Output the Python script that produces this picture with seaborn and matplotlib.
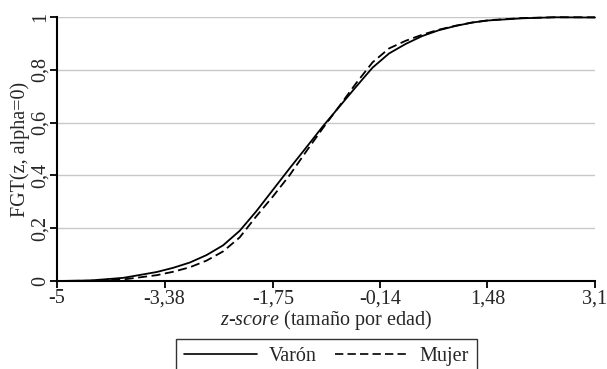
import matplotlib
matplotlib.use("Agg")
import matplotlib.pyplot as plt
from matplotlib.lines import Line2D
import seaborn as sns
import pandas as pd

# z-score grid and cumulative headcount FGT(z, alpha=0) by sex
z = [-5.0, -4.5, -4.0, -3.5, -3.25, -3.0, -2.75, -2.5, -2.25, -2.0, -1.75,
     -1.5, -1.25, -1.0, -0.75, -0.5, -0.25, 0.0, 0.25, 0.5, 0.75, 1.0, 1.25,
     1.5, 2.0, 2.5, 3.1]
varon = [0.0, 0.002, 0.012, 0.034, 0.05, 0.07, 0.098, 0.135, 0.19, 0.264,
         0.345, 0.426, 0.505, 0.585, 0.66, 0.735, 0.808, 0.862, 0.898, 0.928,
         0.95, 0.966, 0.979, 0.987, 0.995, 0.999, 0.998]
mujer = [0.0, 0.001, 0.006, 0.022, 0.035, 0.052, 0.077, 0.112, 0.165, 0.245,
         0.32, 0.40, 0.49, 0.578, 0.662, 0.748, 0.828, 0.881, 0.91, 0.933,
         0.952, 0.967, 0.979, 0.988, 0.996, 0.999, 0.999]

xticks = [-5, -3.38, -1.75, -0.14, 1.48, 3.1]
xtick_labels = ["-5", "-3,38", "-1,75", "-0,14", "1,48", "3,1"]
yticks = [0, 0.2, 0.4, 0.6, 0.8, 1.0]
ytick_labels = ["0", "0,2", "0,4", "0,6", "0,8", "1"]

FS = 14.5

sns.set_theme(style="white")
plt.rcParams["font.family"] = ["Liberation Serif", "DejaVu Serif"]
plt.rcParams["mathtext.fontset"] = "custom"
plt.rcParams["mathtext.rm"] = "Liberation Serif"
plt.rcParams["mathtext.it"] = "Liberation Serif:italic"

df = pd.DataFrame({
    "z": z * 2,
    "fgt": varon + mujer,
    "sexo": ["Varón"] * len(z) + ["Mujer"] * len(z),
})

fig = plt.figure(figsize=(6.07, 3.69), dpi=100)
ax = fig.add_axes([57 / 607, 1 - 281 / 369, (595 - 57) / 607, 264 / 369])

for y in yticks[1:]:
    ax.axhline(y, color="#c8c8c8", lw=1.0, zorder=0)

sns.lineplot(data=df, x="z", y="fgt", hue="sexo", style="sexo",
             palette={"Varón": "black", "Mujer": "black"},
             dashes={"Varón": "", "Mujer": (5, 2.5)},
             linewidth=1.3, ax=ax, legend=False, clip_on=False)

ax.set_xlim(-5, 3.1)
ax.set_ylim(0, 1)
ax.set_xticks(xticks)
ax.set_xticklabels(xtick_labels, fontsize=FS)
ax.set_yticks(yticks)
ax.set_yticklabels(ytick_labels, fontsize=FS, rotation=90, va="center")
ax.tick_params(axis="both", direction="out", length=5, width=1.3,
               color="black", bottom=True, left=True)
ax.tick_params(axis="x", pad=1)
ax.tick_params(axis="y", pad=0)

for side in ["top", "right"]:
    ax.spines[side].set_visible(False)
for side in ["left", "bottom"]:
    ax.spines[side].set_color("black")
    ax.spines[side].set_linewidth(1.5)

ax.set_xlabel(r"$z$-$score$ (tamaño por edad)", fontsize=FS, labelpad=0)
ax.set_ylabel("FGT(z, alpha=0)", fontsize=FS, labelpad=1)

handles = [Line2D([], [], color="black", lw=1.2),
           Line2D([], [], color="black", lw=1.2, dashes=(5, 2.5))]
leg = fig.legend(handles, ["Varón", "Mujer"], ncol=2, loc="upper center",
                 bbox_to_anchor=(0.538, 1 - 339 / 369),
                 bbox_transform=fig.transFigure, fontsize=FS,
                 frameon=True, fancybox=False, handlelength=3.6,
                 columnspacing=0.9, borderpad=0.4, handletextpad=0.6,
                 borderaxespad=0)
leg.get_frame().set_edgecolor("black")
leg.get_frame().set_linewidth(1.0)

fig.savefig("out.png", dpi=100)
